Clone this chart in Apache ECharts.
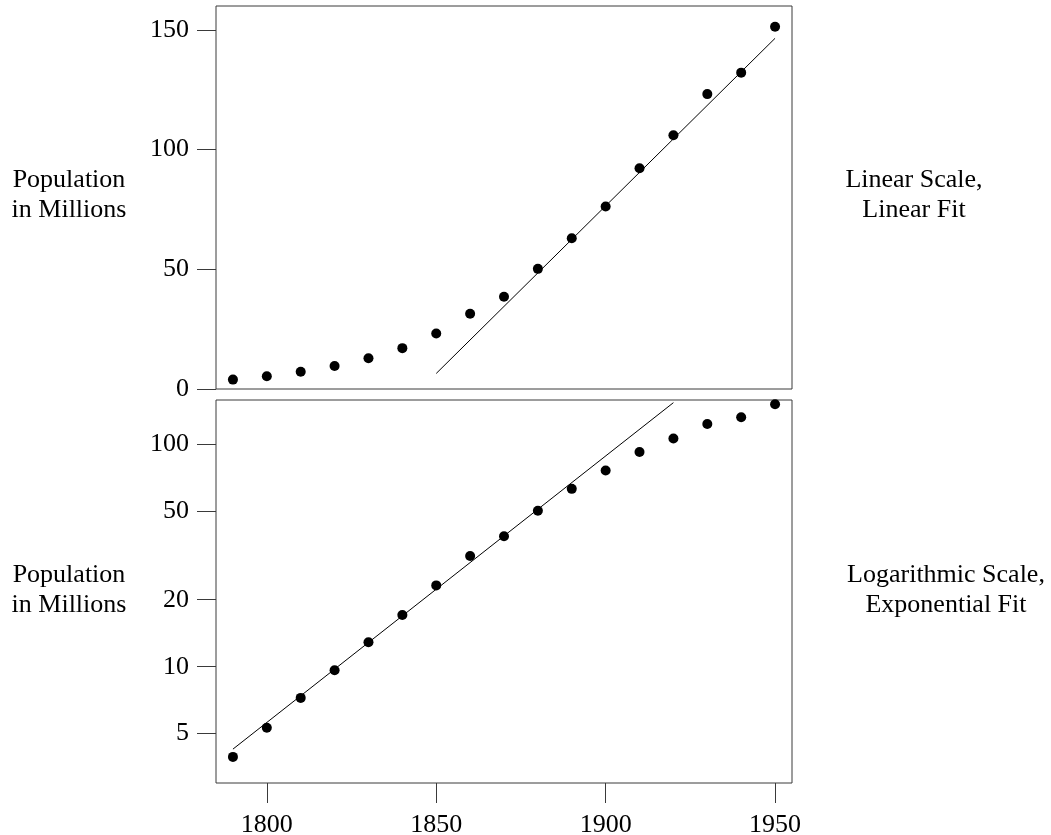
<!DOCTYPE html>
<html>
<head>
<meta charset="utf-8">
<script src="https://cdn.jsdelivr.net/npm/echarts@6/dist/echarts.min.js"></script>
<style>
html,body{margin:0;padding:0;background:#fff;}
#c{width:1051px;height:835px;}
</style>
</head>
<body>
<div id="c"></div>
<script>
// Data
var years = [1790,1800,1810,1820,1830,1840,1850,1860,1870,1880,1890,1900,1910,1920,1930,1940,1950];
var population = [3.93,5.31,7.24,9.64,12.87,17.07,23.19,31.44,38.56,50.19,62.98,76.21,92.23,106.02,123.2,132.16,151.33];
var linearFitYears = [1850,1950];
var linearFitValues = [6.5,146.5];
var expFitYears = [1790,1920];
var expFitValues = [4.26,153.7];
var xTicks = [1800,1850,1900,1950];
var linTicks = [0,50,100,150];
var logTicks = [5,10,20,50,100];
var leftLabel = 'Population\nin Millions';
var topRightLabel = 'Linear Scale,\nLinear Fit';
var bottomRightLabel = 'Logarithmic Scale,\nExponential Fit';

var FONT = 'Liberation Serif';
var FS = 26;
var FRAME = '#3a3a3a';

function pairs(xs, ys){ return xs.map(function(x,i){ return [x, ys[i]]; }); }

var chart = echarts.init(document.getElementById('c'), null, {renderer:'canvas'});

var axisTextStyle = {color:'#000', fontFamily:FONT, fontSize:FS};
var textFont = FS + 'px "' + FONT + '"';

var option = {
  animation:false,
  backgroundColor:'#fff',
  grid:[
    {left:216, top:6, width:576, height:383, show:true, borderColor:FRAME, borderWidth:1, containLabel:false, outerBoundsMode:'none'},
    {left:216, top:400, width:576, height:383, show:true, borderColor:FRAME, borderWidth:1, containLabel:false, outerBoundsMode:'none'}
  ],
  xAxis:[
    {type:'value', gridIndex:0, min:1785, max:1955,
     axisLine:{show:false}, axisTick:{show:false}, axisLabel:{show:false}, splitLine:{show:false}},
    {type:'value', gridIndex:1, min:1785, max:1955,
     axisLine:{show:false},
     axisTick:{show:true, inside:false, length:20, lineStyle:{color:FRAME, width:1}, customValues:xTicks},
     axisLabel:Object.assign({show:true, margin:29, customValues:xTicks, formatter:function(v){return String(v);}}, axisTextStyle),
     splitLine:{show:false}}
  ],
  yAxis:[
    {type:'value', gridIndex:0, min:0, max:160,
     axisLine:{show:false},
     axisTick:{show:true, inside:false, length:19, lineStyle:{color:FRAME, width:1}, customValues:linTicks},
     axisLabel:Object.assign({show:true, margin:27, customValues:linTicks, formatter:function(v){return String(v);}}, axisTextStyle),
     splitLine:{show:false}},
    {type:'log', logBase:10, gridIndex:1, min:3, max:158,
     axisLine:{show:false},
     axisTick:{show:true, inside:false, length:19, lineStyle:{color:FRAME, width:1}, customValues:logTicks},
     axisLabel:Object.assign({show:true, margin:27, customValues:logTicks, formatter:function(v){return String(Math.round(v));}}, axisTextStyle),
     splitLine:{show:false}, minorTick:{show:false}}
  ],
  series:[
    {type:'line', xAxisIndex:0, yAxisIndex:0, data:pairs(linearFitYears, linearFitValues),
     showSymbol:false, symbol:'none', lineStyle:{color:'#000', width:1}, silent:true, z:1},
    {type:'scatter', xAxisIndex:0, yAxisIndex:0, data:pairs(years, population),
     symbol:'circle', symbolSize:10, itemStyle:{color:'#000', opacity:1}, z:2},
    {type:'line', xAxisIndex:1, yAxisIndex:1, data:pairs(expFitYears, expFitValues),
     showSymbol:false, symbol:'none', lineStyle:{color:'#000', width:1}, silent:true, z:1},
    {type:'scatter', xAxisIndex:1, yAxisIndex:1, data:pairs(years, population),
     symbol:'circle', symbolSize:10, itemStyle:{color:'#000', opacity:1}, z:2}
  ],
  graphic:[
    {type:'text', x:69, y:195, style:{text:leftLabel, fill:'#000', font:textFont, lineHeight:30, align:'center', verticalAlign:'middle'}},
    {type:'text', x:69, y:590, style:{text:leftLabel, fill:'#000', font:textFont, lineHeight:30, align:'center', verticalAlign:'middle'}},
    {type:'text', x:914, y:195, style:{text:topRightLabel, fill:'#000', font:textFont, lineHeight:30, align:'center', verticalAlign:'middle'}},
    {type:'text', x:946, y:590, style:{text:bottomRightLabel, fill:'#000', font:textFont, lineHeight:30, align:'center', verticalAlign:'middle'}}
  ]
};
chart.setOption(option);
</script>
</body>
</html>
